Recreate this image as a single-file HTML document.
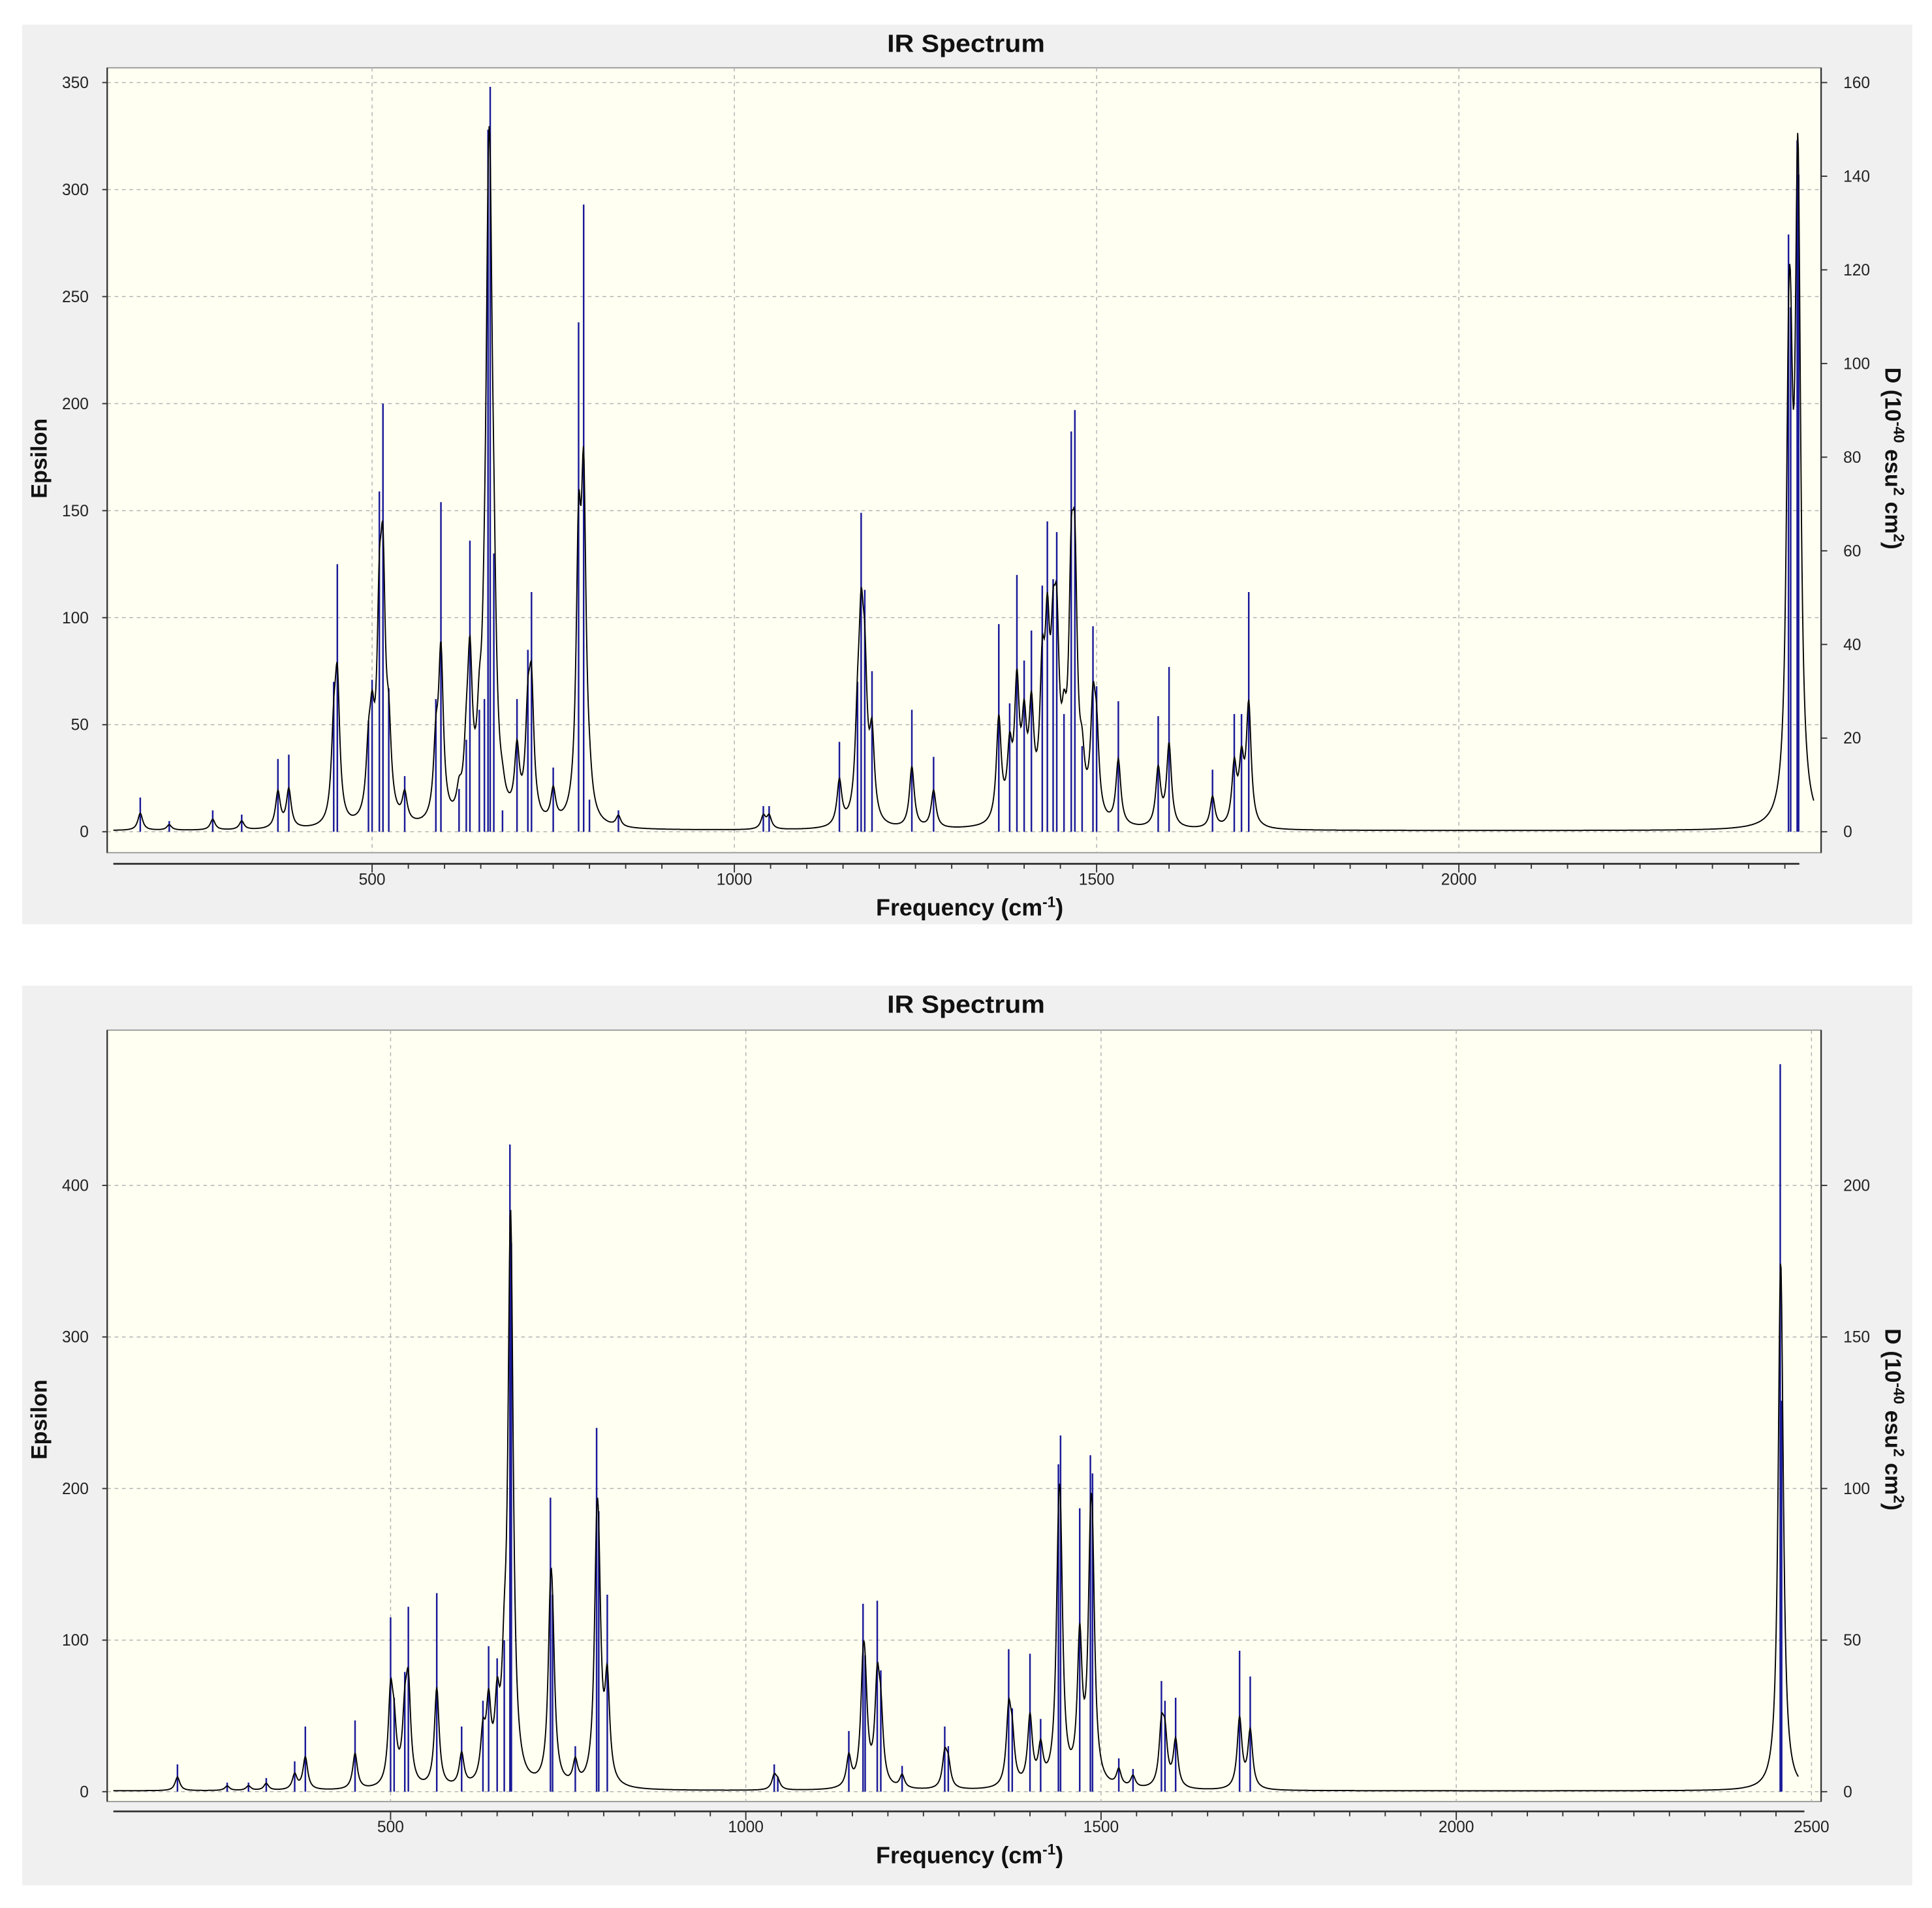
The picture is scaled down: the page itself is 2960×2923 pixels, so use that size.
<!DOCTYPE html>
<html><head><meta charset="utf-8">
<style>
html,body{margin:0;padding:0;background:#fff;}
svg{display:block;font-family:"Liberation Sans",Arial,sans-serif;}
</style></head>
<body>
<svg id="chart" width="2960" height="2923" viewBox="0 0 1568 1548.4" xmlns="http://www.w3.org/2000/svg">
<rect x="0" y="0" width="1568" height="1548.4" fill="#ffffff"/>
</svg>
<script>
// ---- Top spectrum data ----
const topFreq = [180,220,280,320,370,385,447,452,495,500,510,515,523,545,588,595,620,630,635,648,655,660,663,668,680,700,715,720,750,785,792,800,840,1040,1048,1145,1170,1175,1180,1190,1245,1275,1365,1380,1390,1400,1410,1425,1432,1440,1445,1455,1465,1470,1480,1495,1500,1530,1585,1600,1660,1690,1700,1710,2455,2458,2467,2469];
const topEps  = [16,5,10,8,34,36,70,125,52,71,159,200,67,26,62,154,20,43,136,57,62,328,348,130,10,62,85,112,30,238,293,15,10,12,12,42,70,149,113,75,57,35,97,60,120,80,94,115,145,118,140,55,187,197,40,96,68,61,54,77,29,55,55,112,279,245,323,307];
const topLeftTicks = [0,50,100,150,200,250,300,350];
const topRightTicks = [0,20,40,60,80,100,120,140,160];
const topXTicks = [500,1000,1500,2000];
// ---- Bottom spectrum data ----
const botFreq = [200,270,300,325,365,380,450,500,505,520,525,565,600,630,638,650,660,668,670,725,728,760,790,793,805,1040,1045,1145,1165,1168,1185,1190,1220,1280,1285,1370,1375,1400,1415,1440,1443,1470,1485,1488,1525,1545,1585,1590,1605,1695,1710,2456,2458];
const botEps  = [18,6,6,9,20,43,47,115,62,79,122,131,43,60,96,88,100,427,362,194,130,30,240,185,130,18,10,40,124,90,126,80,17,43,30,94,55,91,48,216,235,187,222,210,22,15,73,60,62,93,76,480,258];
const botLeftTicks = [0,100,200,300,400];
const botRightTicks = [0,50,100,150,200];
const botXTicks = [500,1000,1500,2000,2500];

const NS="http://www.w3.org/2000/svg";
const svg=document.getElementById('chart');
function mk(tag,attrs,parent){const e=document.createElementNS(NS,tag);for(const k in attrs)e.setAttribute(k,attrs[k]);(parent||svg).appendChild(e);return e;}

function panel(cfg){
  const g=mk('g',{});
  
  
  const bg=mk('rect',{x:18,y:cfg.bgY,width:1534,height:730,fill:'#f0f0f0'},g);
  
  
  const pl=mk('rect',{x:87,y:cfg.top,width:1391,height:cfg.bottom-cfg.top,fill:'#fffff2',stroke:'#9a9a9a','stroke-width':1},g);
  
  
  const xs=v=>cfg.x0px+(v-cfg.x0v)*cfg.xk;
  const ys=v=>cfg.y0px-v*cfg.yk;
  const ysR=v=>cfg.y0px-v*cfg.yRk;
  const t=mk('text',{x:784,y:cfg.bgY+22,'text-anchor':'middle','font-size':20,'font-weight':'bold',fill:'#111',textLength:128,lengthAdjust:'spacingAndGlyphs'},g);
  t.textContent='IR Spectrum';
  
  
  cfg.xt.forEach(v=>{
    const l=mk('line',{x1:xs(v),x2:xs(v),y1:cfg.top,y2:cfg.bottom,stroke:'#b4b4b4','stroke-dasharray':'3,3','stroke-width':0.8},g);
    
    
    const tx=mk('text',{x:xs(v),y:cfg.axisY+17,'text-anchor':'middle','font-size':13,fill:'#222'},g);
    tx.textContent=v;
    
    
  });
  cfg.lt.forEach(v=>{
    const l=mk('line',{x1:87,x2:1478,y1:ys(v),y2:ys(v),stroke:'#b4b4b4','stroke-dasharray':'3,3','stroke-width':0.8},g);
    
    
    mk('line',{x1:83,x2:87,y1:ys(v),y2:ys(v),stroke:'#333'},g);
    const tx=mk('text',{x:72,y:ys(v)+4.5,'text-anchor':'end','font-size':13,fill:'#222'},g);
    tx.textContent=v;
    
    
  });
  cfg.rt.forEach(v=>{
    mk('line',{x1:1478,x2:1483,y1:ysR(v),y2:ysR(v),stroke:'#333'},g);
    const tx=mk('text',{x:1496,y:ysR(v)+4.5,'font-size':13,fill:'#222'},g);
    tx.textContent=v;
    
    
  });
  mk('line',{x1:87,x2:87,y1:cfg.top,y2:cfg.bottom,stroke:'#333','stroke-width':1.2},g);
  mk('line',{x1:1478,x2:1478,y1:cfg.top,y2:cfg.bottom,stroke:'#333','stroke-width':1.2},g);
  mk('line',{x1:92,x2:xs(cfg.xmax),y1:cfg.axisY,y2:cfg.axisY,stroke:'#333','stroke-width':1.5},g);
  for(let v=Math.ceil(cfg.x0v/50)*50; xs(v)<=xs(cfg.xmax)+0.5; v+=50){
    const major=v%500===0;
    mk('line',{x1:xs(v),x2:xs(v),y1:cfg.axisY,y2:cfg.axisY+(major?7:4),stroke:'#333'},g);
  }
  const xl=mk('text',{x:787,y:cfg.axisY+42,'text-anchor':'middle','font-size':19,'font-weight':'bold',fill:'#111'},g);
  xl.innerHTML='Frequency (cm<tspan dy="-7" font-size="12">-1</tspan><tspan dy="7">)</tspan>';
  
  
  const yl=mk('text',{x:0,y:0,'text-anchor':'middle','font-size':18,'font-weight':'bold',fill:'#111',transform:`translate(38,${cfg.yTitleY}) rotate(-90)`},g);
  yl.textContent='Epsilon';
  
  
  const yr=mk('text',{x:0,y:0,'text-anchor':'middle','font-size':18,'font-weight':'bold',fill:'#111',transform:`translate(1530,${cfg.yTitleY}) rotate(90)`},g);
  yr.innerHTML='D (10<tspan dy="-7" font-size="12">-40</tspan><tspan dy="7"> esu</tspan><tspan dy="-7" font-size="12">2</tspan><tspan dy="7"> cm</tspan><tspan dy="-7" font-size="12">2</tspan><tspan dy="7">)</tspan>';
  
  
  cfg.f.forEach((fv,i)=>{
    const s=mk('line',{x1:xs(fv),x2:xs(fv),y1:ys(0),y2:ys(cfg.e[i]),stroke:'#1a1a9a','stroke-width':1.3},g);
    
    
  });
  const w=4, fac=0.5;
  let d='';
  for(let px=92; px<=xs(cfg.xend); px+=0.5){
    const x=cfg.x0v+(px-cfg.x0px)/cfg.xk;
    let s=0;
    cfg.f.forEach((fv,i)=>{s+=cfg.e[i]*w*w/((x-fv)*(x-fv)+w*w);});
    s=s*fac+0.5;
    d+=(d?'L':'M')+px.toFixed(1)+','+ys(s).toFixed(1);
  }
  const env=mk('path',{d:d,fill:'none',stroke:'#000','stroke-width':1},g);
  
  
}

panel({name:'top-panel',bgY:20,top:55,bottom:692,axisY:701,x0px:302,x0v:500,xk:0.588,y0px:675,yk:608/350,yRk:608/160,
  xt:topXTicks,lt:topLeftTicks,rt:topRightTicks,f:topFreq,e:topEps,xmax:2470,xend:2490,yTitleY:372});
panel({name:'bottom-panel',bgY:800,top:836,bottom:1462,axisY:1470,x0px:317,x0v:500,xk:0.5766,y0px:1454,yk:1.23,yRk:2.46,
  xt:botXTicks,lt:botLeftTicks,rt:botRightTicks,f:botFreq,e:botEps,xmax:2490,xend:2482,yTitleY:1152});
</script>
</body></html>
